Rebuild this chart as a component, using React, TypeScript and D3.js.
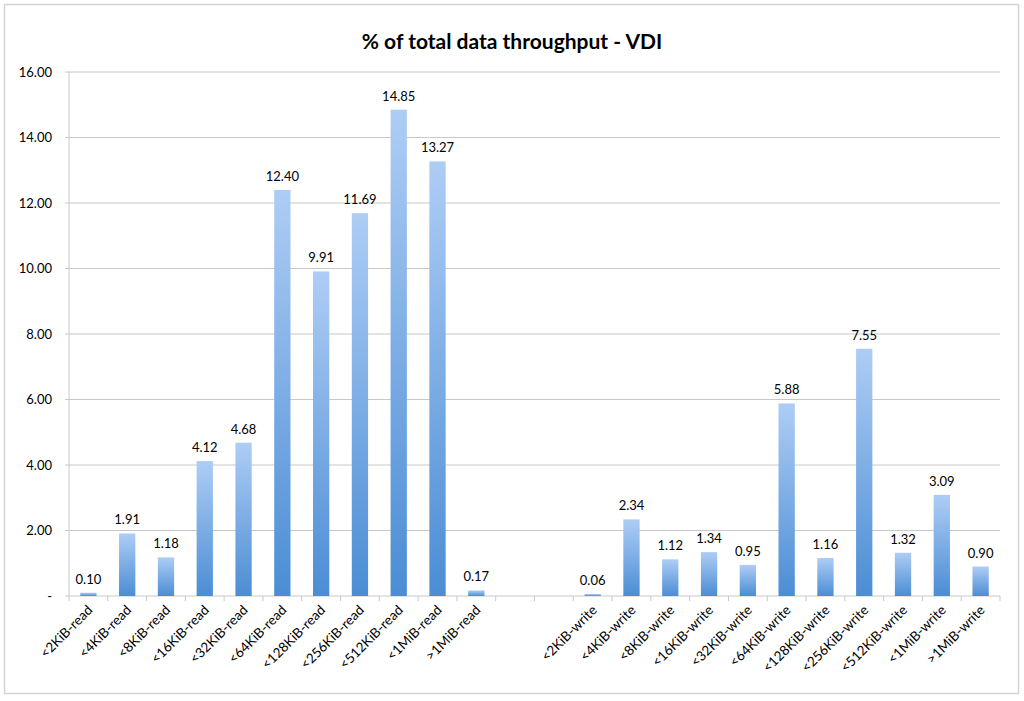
import * as React from "react";
import * as d3 from "d3";

const title = "% of total data throughput - VDI";

const sizes = ["<2KiB", "<4KiB", "<8KiB", "<16KiB", "<32KiB", "<64KiB", "<128KiB", "<256KiB", "<512KiB", "<1MiB", ">1MiB"];
const readValues = [0.10, 1.91, 1.18, 4.12, 4.68, 12.40, 9.91, 11.69, 14.85, 13.27, 0.17];
const writeValues = [0.06, 2.34, 1.12, 1.34, 0.95, 5.88, 1.16, 7.55, 1.32, 3.09, 0.90];
const yTicks = [0, 2, 4, 6, 8, 10, 12, 14, 16];

interface Row {
    key: string,
    label: string,
    value: number | null
}

// two blank slots separate reads from writes
const rows: Row[] = [
    ...sizes.map((s, i) => ({ key: s + "-read", label: s + "-read", value: readValues[i] })),
    { key: "gap1", label: "", value: null },
    { key: "gap2", label: "", value: null },
    ...sizes.map((s, i) => ({ key: s + "-write", label: s + "-write", value: writeValues[i] }))
];

export default function App() {
    const width = 1024;
    const height = 701;
    const left = 69, right = 1000, top = 72, bottom = 596;

    const x = d3.scaleBand<string>().domain(rows.map(r => r.key)).range([left, right]).paddingInner(0).paddingOuter(0);
    const y = d3.scaleLinear().domain([0, 16]).range([bottom, top]);
    const barWidth = x.bandwidth() * 0.42;

    const font = "Lato, 'Open Sans', 'Liberation Sans', sans-serif";
    const fmt = d3.format(".2f");

    return (
        <svg width={width} height={height} style={{ position: "absolute", left: 0, top: 0, background: "#fff" }}>
            <defs>
                <linearGradient id="barFill" x1="0" y1="0" x2="0" y2="1">
                    <stop offset="0%" stopColor="#aecdf5" />
                    <stop offset="100%" stopColor="#4b8dd4" />
                </linearGradient>
            </defs>
            <rect x={4.5} y={4.5} width={1014} height={689} fill="#fff" stroke="#d4d4d4" strokeWidth={1.5} />
            <text x={width / 2} y={49} textAnchor="middle" fontFamily={font} fontWeight="bold" fontSize={21} fill="#000">{title}</text>

            {/* gridlines and y labels */}
            {yTicks.map(t => (
                <g key={t}>
                    <line x1={left - 4} x2={right} y1={y(t)} y2={y(t)} stroke="#c8c8c8" strokeWidth={1} />
                    <text x={52} y={y(t) + 4.5} textAnchor="end" fontFamily={font} fontSize={13} fill="#000">
                        {t === 0 ? "-" : fmt(t)}
                    </text>
                </g>
            ))}
            <line x1={left} x2={left} y1={top} y2={bottom} stroke="#c8c8c8" strokeWidth={1} />

            {/* category ticks */}
            {rows.map((r, i) => (
                <line key={"t" + i} x1={x(r.key)!} x2={x(r.key)!} y1={bottom} y2={bottom + 5} stroke="#c8c8c8" />
            ))}
            <line x1={right} x2={right} y1={bottom} y2={bottom + 5} stroke="#c8c8c8" />

            {rows.filter(r => r.value !== null).map(r => {
                const cx = x(r.key)! + x.bandwidth() / 2;
                const v = r.value as number;
                return (
                    <g key={r.key}>
                        <rect x={cx - barWidth / 2} y={y(v)} width={barWidth} height={bottom - y(v)} fill="url(#barFill)" />
                        <text x={cx} y={y(v) - 9} textAnchor="middle" fontFamily={font} fontSize={13} fill="#000">{fmt(v)}</text>
                    </g>
                );
            })}

            {/* rotated category labels */}
            {rows.filter(r => r.label).map(r => {
                const cx = x(r.key)! + x.bandwidth() / 2 + 5;
                return (
                    <text key={"l" + r.key} transform={`translate(${cx},${bottom + 15}) rotate(-45)`} textAnchor="end"
                        fontFamily={font} fontSize={13.5} fill="#000">{r.label}</text>
                );
            })}
        </svg>
    );
}
